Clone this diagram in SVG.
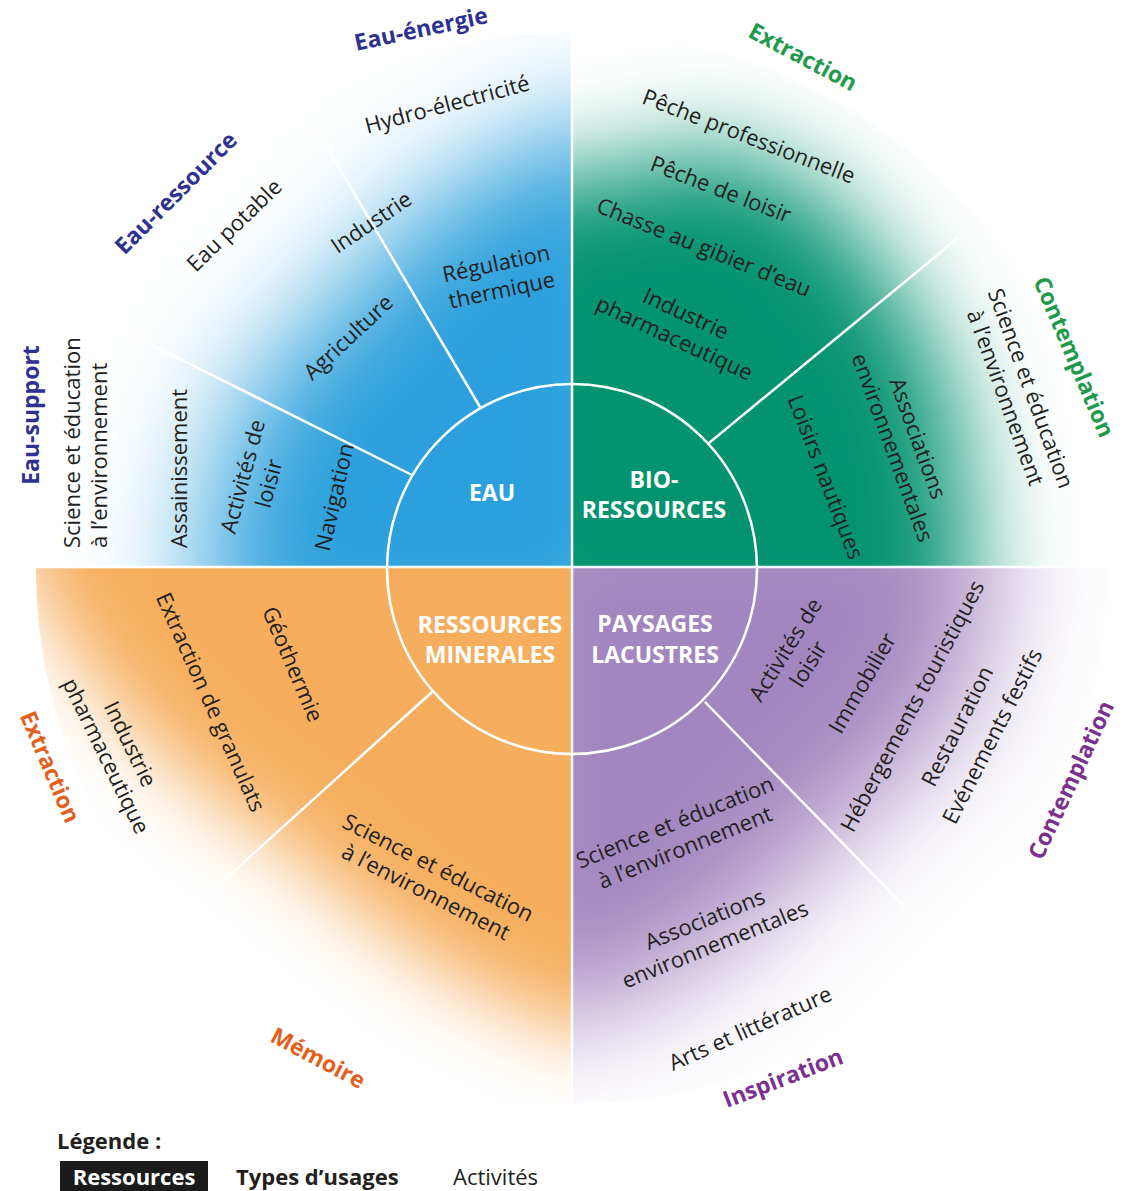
<svg xmlns="http://www.w3.org/2000/svg" width="1122" height="1191" viewBox="0 0 1122 1191">
<style>
.act{font-family:"Open Sans","Noto Sans",sans-serif;font-size:22px;fill:#231f20;text-anchor:middle}
.acts{font-family:"Open Sans","Noto Sans",sans-serif;font-size:22px;fill:#231f20;text-anchor:start}
.typ{font-family:"Open Sans","Noto Sans",sans-serif;font-size:23px;font-weight:700;text-anchor:middle}
.res{font-family:"Open Sans","Noto Sans",sans-serif;font-size:23px;font-weight:700;fill:#ffffff;text-anchor:middle}
.tb{fill:#2e3192}.tg{fill:#1e9a4b}.to{fill:#e35f1c}.tp{fill:#7b2f8e}
.div{stroke:#ffffff;stroke-width:2.5;fill:none}
.leg{font-family:"Open Sans","Noto Sans",sans-serif;font-size:22px;fill:#231f20}
</style>
<defs>
<filter id="bl60" x="-50%" y="-50%" width="200%" height="200%"><feGaussianBlur stdDeviation="60"/></filter>
<filter id="bl50" x="-50%" y="-50%" width="200%" height="200%"><feGaussianBlur stdDeviation="50"/></filter>
<filter id="bl40" x="-50%" y="-50%" width="200%" height="200%"><feGaussianBlur stdDeviation="40"/></filter>
<mask id="mB" maskUnits="userSpaceOnUse" x="0" y="0" width="1122" height="1191">
<polygon fill="#fff" filter="url(#bl60)" points="202,668 202,568 215,472 252,383 321,317 385,243 467,177 572,123 672,123 672,668"/>
</mask>
<mask id="mG" maskUnits="userSpaceOnUse" x="0" y="0" width="1122" height="1191">
<polygon fill="#fff" filter="url(#bl50)" points="472,178 572,178 726,145 830,199 901,292 953,391 966,499 972,568 972,668 472,668"/>
</mask>
<mask id="mO" maskUnits="userSpaceOnUse" x="0" y="0" width="1122" height="1191">
<polygon fill="#fff" filter="url(#bl40)" points="20,468 20,568 103,694 195,786 289,851 369,919 461,983 572,1033 672,1033 672,468"/>
</mask>
<mask id="mP" maskUnits="userSpaceOnUse" x="0" y="0" width="1122" height="1191">
<polygon fill="#fff" filter="url(#bl60)" points="992,468 992,568 967,712 837,833 741,931 647,992 572,1018 472,1018 472,468"/>
</mask>
</defs>
<rect x="0" y="0" width="1122" height="1191" fill="#ffffff"/>

<g id="quadrants">
<path d="M572,568 L36,568 A536,536 0 0 1 572,32 Z" fill="#2ca0dc" mask="url(#mB)"/>
<path d="M572,568 L572,32 A536,536 0 0 1 1108,568 Z" fill="#03936f" mask="url(#mG)"/>
<path d="M572,568 L1108,568 A536,536 0 0 1 572,1104 Z" fill="#a386bf" mask="url(#mP)"/>
<path d="M572,568 L572,1104 A536,536 0 0 1 36,568 Z" fill="#f6ae5e" mask="url(#mO)"/>
</g>

<g id="connectors">
<line class="div" x1="20" y1="567" x2="1115" y2="567"/>
<line class="div" x1="572" y1="20" x2="572" y2="1110"/>
<circle class="div" cx="572" cy="569" r="185"/>
<line class="div" x1="480" y1="407" x2="314" y2="125"/>
<line class="div" x1="412" y1="475" x2="122" y2="330"/>
<line class="div" x1="709" y1="443" x2="958" y2="238"/>
<line class="div" x1="432" y1="692" x2="178" y2="922"/>
<line class="div" x1="705" y1="702" x2="942" y2="945"/>
</g>

<g id="node-eau">
<text class="res" x="492" y="501">EAU</text>
<g id="usage-eau-energie">
<text class="typ tb" transform="translate(421,29) rotate(-12)" y="8">Eau-énergie</text>
<text class="act" transform="translate(447,104) rotate(-15)" y="8">Hydro-électricité</text>
<text class="act" transform="translate(371,222) rotate(-34)" y="8">Industrie</text>
<text class="act" transform="translate(499,277) rotate(-12)"><tspan x="0" y="-6">Régulation</tspan><tspan x="0" y="21">thermique</tspan></text>
</g>
<g id="usage-eau-ressource">
<text class="typ tb" transform="translate(176,193) rotate(-45)" y="8">Eau-ressource</text>
<text class="act" transform="translate(234,225) rotate(-44)" y="8">Eau potable</text>
<text class="act" transform="translate(348,337) rotate(-43)" y="8">Agriculture</text>
</g>
<g id="usage-eau-support">
<text class="typ tb" transform="translate(31,415) rotate(-90)" y="8">Eau-support</text>
<text class="acts" transform="translate(80,548) rotate(-90)"><tspan x="0" y="0">Science et éducation</tspan><tspan x="0" y="27">à l’environnement</tspan></text>
<text class="acts" transform="translate(187,548) rotate(-90)">Assainissement</text>
<text class="act" transform="translate(256,480) rotate(-75)"><tspan x="0" y="-6">Activités de</tspan><tspan x="0" y="21">loisir</tspan></text>
<text class="act" transform="translate(334,497) rotate(-77)" y="8">Navigation</text>
</g>
</g>

<g id="node-bio">
<text class="res" x="654" y="488">BIO-</text>
<text class="res" x="654" y="518">RESSOURCES</text>
<g id="usage-bio-extraction">
<text class="typ tg" transform="translate(803,57) rotate(28)" y="8">Extraction</text>
<text class="act" transform="translate(749,136) rotate(21)" y="8">Pêche professionnelle</text>
<text class="act" transform="translate(721,189) rotate(21)" y="8">Pêche de loisir</text>
<text class="act" transform="translate(704,247) rotate(22)" y="8">Chasse au gibier d’eau</text>
<text class="act" transform="translate(680,326) rotate(25)"><tspan x="0" y="-6">Industrie</tspan><tspan x="0" y="21">pharmaceutique</tspan></text>
</g>
<g id="usage-bio-contemplation">
<text class="typ tg" transform="translate(1074,357) rotate(67)" y="8">Contemplation</text>
<text class="act" transform="translate(1018,393) rotate(70)"><tspan x="0" y="-6">Science et éducation</tspan><tspan x="0" y="21">à l’environnement</tspan></text>
<text class="act" transform="translate(905,443) rotate(70)"><tspan x="0" y="-6">Associations</tspan><tspan x="0" y="21">environnementales</tspan></text>
<text class="act" transform="translate(826,477) rotate(69)" y="8">Loisirs nautiques</text>
</g>
</g>

<g id="node-mineral">
<text class="res" x="490" y="633">RESSOURCES</text>
<text class="res" x="490" y="663">MINERALES</text>
<g id="usage-min-extraction">
<text class="typ to" transform="translate(50,767) rotate(67)" y="8">Extraction</text>
<text class="act" transform="translate(293,664) rotate(67)" y="8">Géothermie</text>
<text class="act" transform="translate(211,702) rotate(66)" y="8">Extraction de granulats</text>
<text class="act" transform="translate(118,750) rotate(64)"><tspan x="0" y="-6">Industrie</tspan><tspan x="0" y="21">pharmaceutique</tspan></text>
</g>
<g id="usage-min-memoire">
<text class="typ to" transform="translate(318,1058) rotate(28)" y="8">Mémoire</text>
<text class="act" transform="translate(432,880) rotate(27)"><tspan x="0" y="-6">Science et éducation</tspan><tspan x="0" y="21">à l’environnement</tspan></text>
</g>
</g>

<g id="node-paysages">
<text class="res" x="655" y="632">PAYSAGES</text>
<text class="res" x="655" y="663">LACUSTRES</text>
<g id="usage-pay-contemplation">
<text class="typ tp" transform="translate(1071,780) rotate(-65)" y="8">Contemplation</text>
<text class="act" transform="translate(797,657) rotate(-58)"><tspan x="0" y="-6">Activités de</tspan><tspan x="0" y="21">loisir</tspan></text>
<text class="act" transform="translate(862,683) rotate(-60)" y="8">Immobilier</text>
<text class="act" transform="translate(912,706) rotate(-62)" y="8">Hébergements touristiques</text>
<text class="act" transform="translate(957,726) rotate(-63)" y="8">Restauration</text>
<text class="act" transform="translate(992,736) rotate(-63)" y="8">Evénements festifs</text>
</g>
<g id="usage-pay-inspiration">
<text class="typ tp" transform="translate(783,1078) rotate(-21)" y="8">Inspiration</text>
<text class="act" transform="translate(680,835) rotate(-22)"><tspan x="0" y="-6">Science et éducation</tspan><tspan x="0" y="21">à l’environnement</tspan></text>
<text class="act" transform="translate(710,932) rotate(-22)"><tspan x="0" y="-6">Associations</tspan><tspan x="0" y="21">environnementales</tspan></text>
<text class="act" transform="translate(750,1028) rotate(-24)" y="8">Arts et littérature</text>
</g>
</g>

<g id="legend">
<text class="leg" x="57" y="1149" font-weight="700">Légende :</text>
<rect x="60" y="1161" width="148" height="30" fill="#1b1b1b"/>
<text class="leg" x="134" y="1185" font-weight="700" text-anchor="middle" style="fill:#ffffff">Ressources</text>
<text class="leg" x="236" y="1185" font-weight="700">Types d’usages</text>
<text class="leg" x="453" y="1185">Activités</text>
</g>
</svg>
